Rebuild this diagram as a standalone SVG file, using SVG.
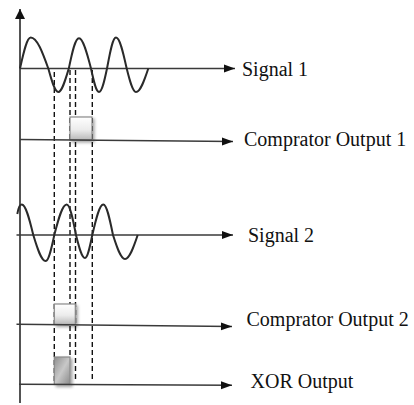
<svg xmlns="http://www.w3.org/2000/svg" width="414" height="405" viewBox="0 0 414 405">
<style>
.ax{stroke:#1a1a1a;stroke-width:1.5;fill:none}
.ln{stroke:#3a3a3a;stroke-width:1.5;fill:none}
.wave{stroke:#2a2a2a;stroke-width:2;fill:none}
.dash{stroke:#111;stroke-width:1.4;stroke-dasharray:5 3;fill:none}
.lbl{font-family:"Liberation Serif","Times New Roman",serif;font-size:20px;fill:#111}
.box{stroke:#8a8a8a;stroke-width:1.2;filter:url(#sh)}
</style>
<defs>
<marker id="arr" markerUnits="userSpaceOnUse" markerWidth="12" markerHeight="10" refX="11" refY="5" orient="auto">
<path d="M0,1 L11,5 L0,9 Z" fill="#111"/>
</marker>
<marker id="arrUp" markerUnits="userSpaceOnUse" markerWidth="12" markerHeight="12" refX="10" refY="6" orient="auto">
<path d="M0,1 L10,6 L0,11 Z" fill="#111"/>
</marker>
<linearGradient id="gLight" x1="0" y1="0" x2="0" y2="1">
<stop offset="0" stop-color="#ffffff"/>
<stop offset="0.55" stop-color="#ececec"/>
<stop offset="1" stop-color="#b8b8b8"/>
</linearGradient>
<linearGradient id="gDark" x1="0" y1="0" x2="1" y2="1">
<stop offset="0" stop-color="#8e8e8e"/>
<stop offset="0.5" stop-color="#c8c8c8"/>
<stop offset="1" stop-color="#8a8a8a"/>
</linearGradient>
<filter id="sh" x="-30%" y="-30%" width="160%" height="160%">
<feDropShadow dx="2" dy="2" stdDeviation="1.5" flood-color="#000" flood-opacity="0.35"/>
</filter>
</defs>

<g id="axis">
<line class="ax" x1="20" y1="403" x2="20" y2="9" marker-end="url(#arrUp)"/>
</g>

<g id="dashes">
<line class="dash" x1="54.3" y1="72" x2="54.3" y2="384"/>
<line class="dash" x1="70" y1="70" x2="70" y2="357"/>
<line class="dash" x1="75.5" y1="70" x2="75.5" y2="381"/>
<line class="dash" x1="92.3" y1="70" x2="92.3" y2="381"/>
</g>

<g id="signal1">
<line class="ln" x1="20" y1="68.5" x2="235" y2="68.5" marker-end="url(#arr)"/>
<path class="wave" d="M20,68.5 C23.5,52.6 26.8,37.5 30.7,37.5 C37.1,37.5 42.6,52.6 48.3,68.5 C51.6,80.5 54.7,92 58.3,92 C61.9,92 65.2,80.5 68.8,68.5 C72,53 75,38.3 79,38.3 C83,38.3 87,53 91,68.5 C93.6,80.5 96,92 99,92 C102,92 104.5,80.5 107,68.5 C110,52.6 112.6,37.5 116,37.5 C119.9,37.5 123.2,52.6 126.7,68.5 C129.7,80.5 132.6,92 136,92 C140.5,92 144.3,80.5 148.3,68.5"/>
<text class="lbl" x="242" y="76">Signal 1</text>
</g>

<g id="comparator1">
<rect class="box" x="70" y="117" width="22" height="23" fill="url(#gLight)"/>
<line class="ln" x1="20" y1="139.5" x2="233" y2="141.5" marker-end="url(#arr)"/>
<text class="lbl" x="244" y="146">Comprator Output 1</text>
</g>

<g id="signal2">
<line class="ln" x1="16.5" y1="235" x2="233" y2="235" marker-end="url(#arr)"/>
<path class="wave" d="M17.3,214 C18.5,207 20,204.5 21.7,204.5 C25.9,204.5 29.5,219.4 33.3,235 C37.3,248.3 41.2,261 45.7,261 C48.8,261 51.5,248.3 54.3,235 C58.3,219.4 62.2,204.5 66.7,204.5 C70.1,204.5 73,219.4 76,235 C78.9,246.8 81.7,258 85,258 C87.6,258 89.9,246.8 92.3,235 C95.9,219.4 99.3,204.5 103.3,204.5 C106.8,204.5 109.8,219.4 113,235 C116.9,247.3 120.7,259 125,259 C129.6,259 133.6,247.3 137.7,235"/>
<text class="lbl" x="248" y="242">Signal 2</text>
</g>

<g id="comparator2">
<rect class="box" x="54.3" y="304" width="21" height="20.5" fill="url(#gLight)"/>
<line class="ln" x1="16.5" y1="324.3" x2="232" y2="326.5" marker-end="url(#arr)"/>
<text class="lbl" x="246.5" y="326">Comprator Output 2</text>
</g>

<g id="xor">
<rect class="box" x="54.3" y="357" width="15.7" height="27.5" fill="url(#gDark)"/>
<line class="ln" x1="19" y1="384.3" x2="232" y2="385.3" marker-end="url(#arr)"/>
<text class="lbl" x="250.5" y="388">XOR Output</text>
</g>
</svg>
